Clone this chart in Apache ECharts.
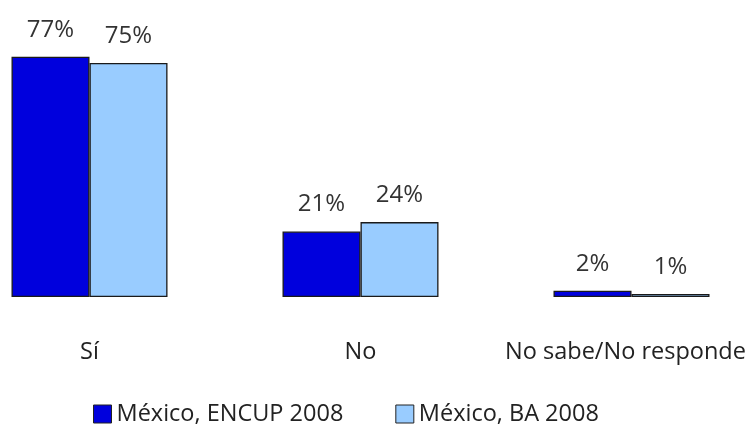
<!DOCTYPE html>
<html><head><meta charset="utf-8">
<script src="https://cdn.jsdelivr.net/npm/echarts@6/dist/echarts.min.js"></script>
<style>html,body{margin:0;padding:0;background:#fff}#c{width:756px;height:428px}</style>
</head><body><div id="c"></div>
<script>
const categories = ['Sí', 'No', 'No sabe/No responde'];
const seriesNames = ['México, ENCUP 2008', 'México, BA 2008'];
const encup = [77, 21, 2];
const ba = [75, 24, 1];
const colors = ['#0000dd', '#99ccff'];
const FONT = 'Open Sans';
const chart = echarts.init(document.getElementById('c'));
const mk = (name, data, color) => ({
  name, type: 'bar', data, barWidth: 78, barGap: '0%',
  itemStyle: { color, borderColor: '#1a1a1a', borderWidth: 1.3 },
  label: { show: true, position: 'top', distance: 15, formatter: '{c}%', color: '#333', fontSize: 24, fontFamily: FONT }
});
const catData = categories.map((c, i) => i === categories.length - 1
  ? { value: c, textStyle: { padding: [0, 12, 0, 0] } } : c);
chart.setOption({
  animation: false,
  textStyle: { fontFamily: FONT },
  legend: {
    top: 397, left: 88, itemWidth: 18, itemHeight: 18, itemGap: 52, icon: 'rect',
    textStyle: { fontSize: 23.5, color: '#222', fontFamily: FONT },
    itemStyle: { borderColor: '#222', borderWidth: 1 },
    data: seriesNames
  },
  grid: { left: -46, width: 813, top: 47.4, bottom: 131, outerBoundsMode: 'none', containLabel: false },
  xAxis: { type: 'category', data: catData, axisLine: { show: false }, axisTick: { show: false },
    axisLabel: { interval: 0, margin: 43, fontSize: 23.5, color: '#222', fontFamily: FONT } },
  yAxis: { type: 'value', min: 0, max: 80, show: false, splitLine: { show: false } },
  series: [mk(seriesNames[0], encup, colors[0]), mk(seriesNames[1], ba, colors[1])]
});
</script></body></html>
